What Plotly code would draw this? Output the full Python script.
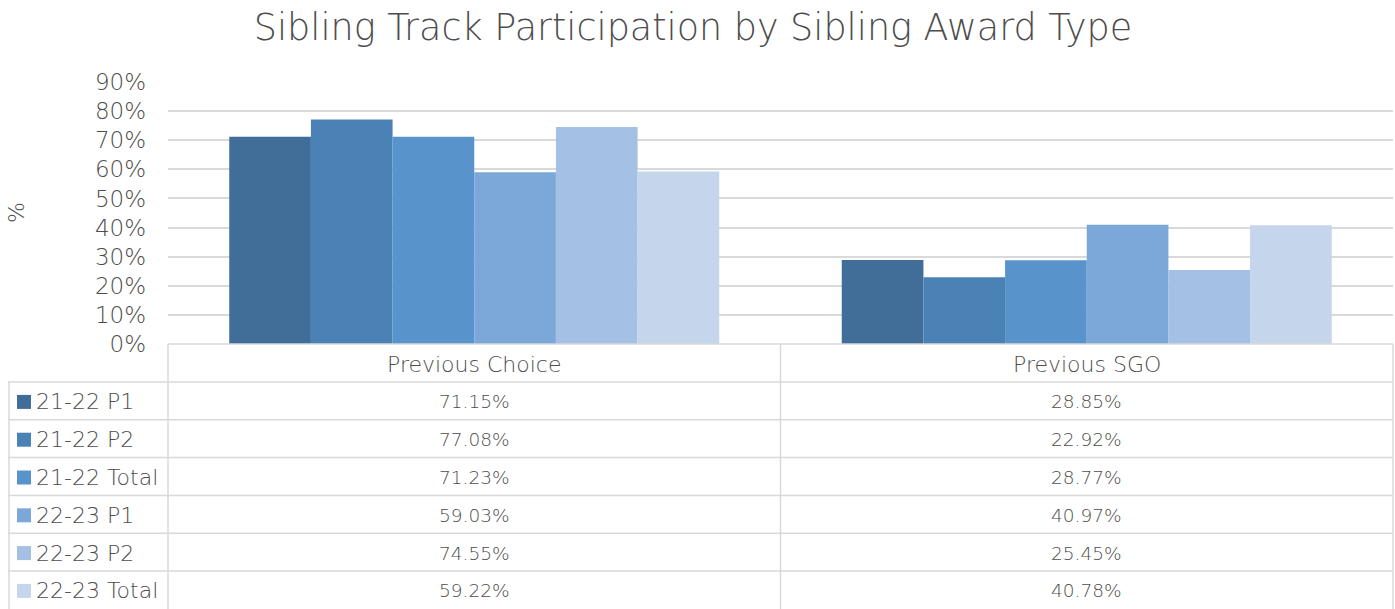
import plotly.graph_objects as go

categories = ["Previous Choice", "Previous SGO"]
series_names = ["21-22 P1", "21-22 P2", "21-22 Total", "22-23 P1", "22-23 P2", "22-23 Total"]
values = {
    "21-22 P1": [0.7115, 0.2885],
    "21-22 P2": [0.7708, 0.2292],
    "21-22 Total": [0.7123, 0.2877],
    "22-23 P1": [0.5903, 0.4097],
    "22-23 P2": [0.7455, 0.2545],
    "22-23 Total": [0.5922, 0.4078],
}
colors = ["#416E99", "#4B82B5", "#5893CB", "#7BA7D9", "#A4C0E4", "#C5D5EB"]
tick_vals = [0, 0.1, 0.2, 0.3, 0.4, 0.5, 0.6, 0.7, 0.8, 0.9]
tick_text = ["0%", "10%", "20%", "30%", "40%", "50%", "60%", "70%", "80%", "90%"]
title_text = "Sibling Track Participation by Sibling Award Type"
y_title = "%"

O = 0  # page body margin removed via post_script
W, H = 1395 - O, 609 - O
L, R, T, B = 168 - O, 1393 - O, 82 - O, 344 - O
FONT = "DejaVu Sans"
GRAY = "#4D4D4D"
LINE = "#D9D9D9"

def px(x):
    return (x - O - L) / (R - L)

def py(y):
    return (B - (y - O)) / (B - T)

fig = go.Figure()
for name, col in zip(series_names, colors):
    fig.add_trace(go.Bar(x=categories, y=values[name], name=name,
                         marker=dict(color=col, line=dict(width=0)),
                         showlegend=False))

shapes = []
annotations = []
row_h = 37.8
header_bottom = 382
rows_top = [header_bottom + i * row_h for i in range(len(series_names))]
table_bottom = 609
s_left, s_plot_l, s_plot_r, s_top = 8, 168, 1393, 344
mid_x = (s_plot_l + s_plot_r) / 2

def hline(x0, x1, y):
    shapes.append(dict(type="line", xref="paper", yref="paper",
                       x0=px(x0), x1=px(x1), y0=py(y), y1=py(y),
                       line=dict(color=LINE, width=1.5)))

def vline(x, y0, y1):
    shapes.append(dict(type="line", xref="paper", yref="paper",
                       x0=px(x), x1=px(x), y0=py(y0), y1=py(y1),
                       line=dict(color=LINE, width=1.5)))

hline(s_plot_l, s_plot_r, s_top)
for yt in rows_top:
    hline(s_left, s_plot_r, yt)
vline(s_left + 1, header_bottom, table_bottom)
vline(s_plot_l, s_top, table_bottom)
vline(mid_x, s_top, table_bottom)
vline(s_plot_r, s_top, table_bottom)

txt_font = dict(family=FONT, size=22, color=GRAY, weight=300)
num_font = dict(family=FONT, size=18.5, color=GRAY, weight=300)

for i, c in enumerate(categories):
    cx = s_plot_l + (i + 0.5) * (s_plot_r - s_plot_l) / 2
    annotations.append(dict(text=c, x=px(cx), y=py((s_top + header_bottom) / 2 + 1),
                            xref="paper", yref="paper", showarrow=False,
                            xanchor="center", yanchor="middle", font=txt_font))

for r, (name, col) in enumerate(zip(series_names, colors)):
    yc = rows_top[r] + row_h / 2 + 1
    shapes.append(dict(type="rect", xref="paper", yref="paper",
                       x0=px(17), x1=px(31), y0=py(yc - 7), y1=py(yc + 7),
                       fillcolor=col, line=dict(width=0)))
    annotations.append(dict(text=name, x=px(34), y=py(yc), xref="paper", yref="paper",
                            showarrow=False, xanchor="left", yanchor="middle", font=txt_font))
    for i, c in enumerate(categories):
        cx = s_plot_l + (i + 0.5) * (s_plot_r - s_plot_l) / 2
        annotations.append(dict(text=f"{values[name][i]*100:.2f}%", x=px(cx), y=py(yc),
                                xref="paper", yref="paper", showarrow=False,
                                xanchor="center", yanchor="middle", font=num_font))

annotations.append(dict(text=y_title, x=px(16), y=py(213), xref="paper", yref="paper",
                        showarrow=False, textangle=-90, xanchor="center", yanchor="middle",
                        font=dict(family=FONT, size=22, color=GRAY, weight=300)))

fig.update_layout(
    width=W, height=H,
    margin=dict(l=L, r=W - R, t=T, b=H - B, pad=0),
    paper_bgcolor="white", plot_bgcolor="white",
    barmode="group", bargap=0.2, bargroupgap=0,
    title=dict(text=title_text, x=(693 - O) / W, xanchor="center",
               y=1 - (27 - O) / H, yanchor="middle",
               font=dict(family=FONT, size=36.5, color=GRAY, weight=300)),
    xaxis=dict(showticklabels=False, showgrid=False, zeroline=False, showline=False,
               ticks=""),
    yaxis=dict(range=[0, 0.9], tickvals=tick_vals, ticktext=tick_text,
               showgrid=True, gridcolor=LINE, gridwidth=1.5, zeroline=False,
               showline=False, ticks="", ticklabelstandoff=21,
               tickfont=dict(family=FONT, size=23, color=GRAY, weight=300)),
    shapes=shapes, annotations=annotations,
)

fig.write_html("out.html", config={"displayModeBar": False},
               post_script="document.body.style.margin='0';")
